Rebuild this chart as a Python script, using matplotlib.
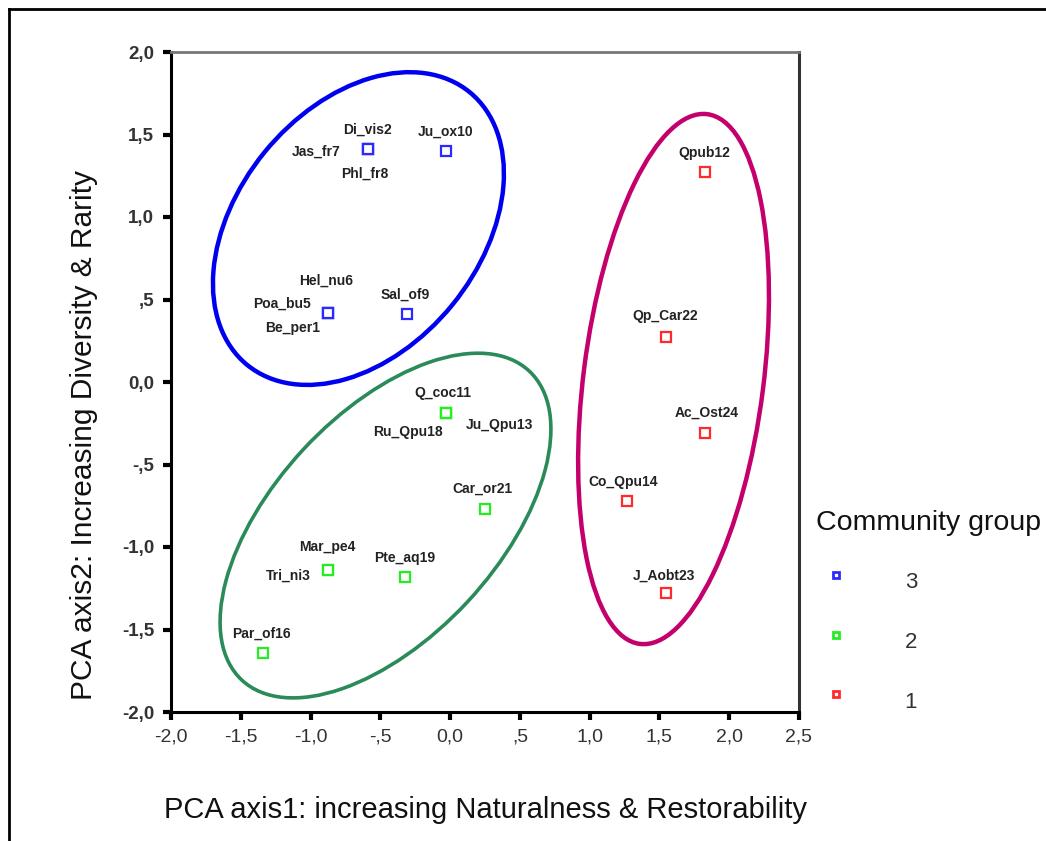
# PCA ordination of sites, coloured by community group

import matplotlib
matplotlib.use('Agg')
import matplotlib.pyplot as plt
from matplotlib.collections import EllipseCollection
from matplotlib.lines import Line2D

plt.rcParams['font.family'] = ['Liberation Sans', 'DejaVu Sans']

# sites
site_names = ['Di_vis2', 'Jas_fr7', 'Phl_fr8', 'Ju_ox10', 'Hel_nu6', 'Poa_bu5', 'Be_per1', 'Sal_of9',
              'Q_coc11', 'Ru_Qpu18', 'Ju_Qpu13', 'Car_or21', 'Mar_pe4', 'Tri_ni3', 'Pte_aq19', 'Par_of16',
              'Qpub12', 'Qp_Car22', 'Ac_Ost24', 'Co_Qpu14', 'J_Aobt23']
pc1 = [-0.59, -0.59, -0.59, -0.03, -0.875, -0.875, -0.875, -0.31,
       -0.03, -0.03, -0.03, 0.25, -0.875, -0.875, -0.32, -1.34,
       1.83, 1.55, 1.83, 1.27, 1.55]
pc2 = [1.41, 1.41, 1.41, 1.40, 0.42, 0.42, 0.42, 0.41,
       -0.19, -0.19, -0.19, -0.77, -1.14, -1.14, -1.18, -1.64,
       1.27, 0.27, -0.31, -0.72, -1.28]
group = [3, 3, 3, 3, 3, 3, 3, 3,
         2, 2, 2, 2, 2, 2, 2, 2,
         1, 1, 1, 1, 1]

groups = [3, 2, 1]
marker_colors = {3: '#2a2aff', 2: '#22ee22', 1: '#ff2a2a'}
ring_colors = {3: '#0000f0', 2: '#2a8a5a', 1: '#c4006c'}

x_ticks = [-2.0, -1.5, -1.0, -0.5, 0.0, 0.5, 1.0, 1.5, 2.0, 2.5]
x_tick_labels = ['-2,0', '-1,5', '-1,0', '-,5', '0,0', ',5', '1,0', '1,5', '2,0', '2,5']
y_ticks = [-2.0, -1.5, -1.0, -0.5, 0.0, 0.5, 1.0, 1.5, 2.0]
y_tick_labels = ['-2,0', '-1,5', '-1,0', '-,5', '0,0', ',5', '1,0', '1,5', '2,0']

# label placement, pixel offsets from the marker
label_offset = {
    'Di_vis2': (0, 20), 'Jas_fr7': (-52, -2), 'Phl_fr8': (-3, -24), 'Ju_ox10': (0, 19),
    'Hel_nu6': (-2, 32), 'Poa_bu5': (-46, 9), 'Be_per1': (-35, -15), 'Sal_of9': (-2, 20),
    'Q_coc11': (-3, 20), 'Ru_Qpu18': (-38, -19), 'Ju_Qpu13': (54, -12), 'Car_or21': (-3, 20),
    'Mar_pe4': (-1, 23), 'Tri_ni3': (-40, -6), 'Pte_aq19': (-1, 19), 'Par_of16': (-2, 19),
    'Qpub12': (-1, 19), 'Qp_Car22': (-1, 21), 'Ac_Ost24': (1, 20), 'Co_Qpu14': (-4, 19),
    'J_Aobt23': (-2, 17),
}

# hand drawn group outlines: centre (data), axes (pixels), angle (deg)
ring_center = {3: (-0.657, 0.93), 2: (-0.463, -0.87), 1: (1.601, 0.018)}
ring_size = {3: (352, 242, 50.8), 2: (422, 224, 47.1), 1: (534, 180, 82.75)}
ring_width = {3: 3.2, 2: 2.6, 1: 3.2}

W, H = 1046, 841
fig = plt.figure(figsize=(W / 100, H / 100), dpi=100)
ax = fig.add_axes([171 / W, 1 - 712 / H, 628 / W, 660 / H])
ax.set_xlim(-2, 2.5)
ax.set_ylim(-2, 2)

for g in groups:
    xs = [x for x, gg in zip(pc1, group) if gg == g]
    ys = [y for y, gg in zip(pc2, group) if gg == g]
    ax.plot(xs, ys, ls='none', marker='s', ms=6.5, mfc='white', mec=marker_colors[g], mew=1.6, zorder=3)

for name, x, y in zip(site_names, pc1, pc2):
    ax.annotate(name, (x, y), xytext=label_offset[name], textcoords='offset pixels',
                ha='center', va='center', fontsize=10, fontweight='bold', color='#222222')

rings = EllipseCollection([ring_size[g][0] for g in groups], [ring_size[g][1] for g in groups],
                          [ring_size[g][2] for g in groups], units='dots',
                          offsets=[ring_center[g] for g in groups], offset_transform=ax.transData,
                          facecolors='none', edgecolors=[ring_colors[g] for g in groups],
                          linewidths=[ring_width[g] for g in groups], zorder=2)
ax.add_collection(rings)

ax.set_xticks(x_ticks)
ax.set_xticklabels(x_tick_labels, fontsize=14, color='#333333')
ax.set_yticks(y_ticks)
ax.set_yticklabels(y_tick_labels, fontsize=13.5, color='#333333', fontweight='bold')
ax.tick_params(direction='out', length=6, width=3, color='black', pad=6)

ax.spines['left'].set_linewidth(2.2)
ax.spines['bottom'].set_linewidth(2.2)
ax.spines['top'].set_color('#777777')
ax.spines['top'].set_linewidth(2)
ax.spines['right'].set_color('#333333')
ax.spines['right'].set_linewidth(2.2)

ax.set_xlabel('PCA axis1: increasing Naturalness & Restorability', fontsize=21, labelpad=36, color='#111111')
ax.set_ylabel('PCA axis2: Increasing Diversity & Rarity', fontsize=21.5, color='#111111')
ax.yaxis.set_label_coords(-0.117, 0.42)

# legend, laid out by hand
fig.text(816 / W, 1 - 523 / H, 'Community group', fontsize=20.5, ha='left', va='center', color='#111111')
for i, g in enumerate(groups):
    ym = 575 + 59.5 * i
    fig.add_artist(Line2D([836 / W], [1 - ym / H], ls='none', marker='s', ms=5, mfc='white',
                          mec=marker_colors[g], mew=2, transform=fig.transFigure))
    fig.text(911 / W, 1 - (ym + 8) / H, str(g), fontsize=16, ha='center', va='center', color='#333333')

# outer frame
fig.add_artist(Line2D([9 / W, 1], [1 - 9 / H, 1 - 9 / H], color='black', lw=2, transform=fig.transFigure))
fig.add_artist(Line2D([9 / W, 9 / W], [0, 1 - 9 / H], color='black', lw=2, transform=fig.transFigure))

fig.savefig('out.png', dpi=100)
